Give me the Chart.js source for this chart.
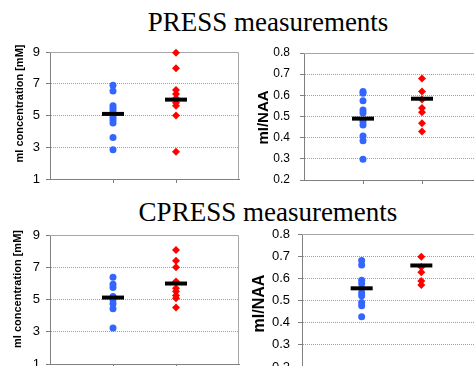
<!DOCTYPE html>
<html>
<head>
<meta charset="utf-8">
<script src="https://cdn.jsdelivr.net/npm/chart.js@4.4.0/dist/chart.umd.min.js"></script>
<style>
  html, body { margin: 0; overflow: hidden; }
  body { width: 474px; height: 366px; position: relative; background: #fff; }
  .titulo { position: absolute; left: 68px; width: 400px; text-align: center; font-family: "Liberation Serif", "Times New Roman", serif; font-size: 27px; line-height: 27px; color: #000; white-space: nowrap; }
  canvas { position: absolute; }
</style>
</head>
<body>
<div class="titulo" style="top:9px">PRESS measurements</div>
<div class="titulo" style="top:199px">CPRESS measurements</div>
<canvas id="c1" width="240" height="150" style="left:0;top:40px"></canvas>
<canvas id="c2" width="241" height="150" style="left:240px;top:40px"></canvas>
<canvas id="c3" width="240" height="150" style="left:0;top:225px"></canvas>
<canvas id="c4" width="241" height="150" style="left:240px;top:225px"></canvas>
<script>
// grupos no eixo x (posicoes 1 e 2)
var grupos = ['azul', 'vermelho'];

// PRESS - concentracao mI [mM]
var pressConcAzul = [6.9, 6.55, 5.62, 5.45, 5.28, 5.1, 4.89, 4.72, 4.53, 3.61, 2.84];
var pressConcVermelho = [8.96, 7.98, 6.6, 6.35, 6.08, 5.8, 5.62, 5.0, 2.72];
var pressConcMedia = [5.1, 6.0];

// PRESS - mI/NAA
var pressRazaoAzul = [0.618, 0.61, 0.574, 0.531, 0.516, 0.476, 0.46, 0.408, 0.385, 0.298];
var pressRazaoVermelho = [0.68, 0.618, 0.58, 0.54, 0.52, 0.468, 0.429];
var pressRazaoMedia = [0.49, 0.584];

// CPRESS - concentracao mI [mM]
var cpressConcAzul = [6.38, 5.95, 5.74, 5.19, 4.98, 4.73, 4.42, 3.23];
var cpressConcVermelho = [8.07, 7.41, 7.0, 6.11, 5.7, 5.49, 5.25, 5.08, 4.5];
var cpressConcMedia = [5.12, 5.99];

// CPRESS - mI/NAA
var cpressRazaoAzul = [0.681, 0.66, 0.591, 0.576, 0.536, 0.521, 0.491, 0.476, 0.427];
var cpressRazaoVermelho = [0.697, 0.651, 0.628, 0.588, 0.57];
var cpressRazaoMedia = [0.555, 0.658];

// rotulos dos eixos y
var ticksConc = [1, 3, 5, 7, 9];
var ticksRazao = [0.2, 0.3, 0.4, 0.5, 0.6, 0.7, 0.8];

// borda cinza em cima e a direita da area do grafico
var moldura = {
  id: 'moldura',
  beforeDatasetsDraw: function(chart) {
    var a = chart.chartArea, c = chart.ctx;
    c.save();
    c.strokeStyle = '#a6a6a6';
    c.lineWidth = 1;
    c.beginPath();
    c.moveTo(a.left, Math.floor(a.top) + 0.5);
    c.lineTo(Math.floor(a.right) - 0.5, Math.floor(a.top) + 0.5);
    c.lineTo(Math.floor(a.right) - 0.5, a.bottom);
    c.stroke();
    c.restore();
  }
};

// titulo do eixo y (rotacionado)
var tituloY = {
  id: 'tituloY',
  afterDraw: function(chart, args, o) {
    var c = chart.ctx;
    c.save();
    c.translate(o.x, o.y);
    c.rotate(-Math.PI / 2);
    c.font = o.font;
    c.fillStyle = '#000';
    c.textAlign = 'center';
    c.textBaseline = 'middle';
    c.fillText(o.text, 0, 0);
    c.restore();
  }
};

function desenha(id, cfg) {
  var ctx = document.getElementById(id).getContext('2d');
  return new Chart(ctx, {
    type: 'scatter',
    data: {
      datasets: [{
        data: cfg.media.map(function(v, i) { return { x: i + 1, y: v }; }),
        pointStyle: 'line',
        radius: 11,
        borderColor: '#000',
        backgroundColor: '#000',
        borderWidth: 4,
        clip: false,
        order: 0
      }, {
        data: cfg.azul.map(function(v) { return { x: grupos.indexOf('azul') + 1, y: v }; }),
        pointStyle: 'circle',
        radius: 3.5,
        backgroundColor: '#3366ff',
        borderWidth: 0,
        clip: false,
        order: 1
      }, {
        data: cfg.vermelho.map(function(v) { return { x: grupos.indexOf('vermelho') + 1, y: v }; }),
        pointStyle: 'rectRot',
        radius: 4,
        backgroundColor: '#ff0000',
        borderWidth: 0,
        clip: false,
        order: 1
      }]
    },
    options: {
      responsive: false,
      animation: false,
      events: [],
      layout: { autoPadding: false, padding: { top: cfg.top, right: cfg.right, left: 0, bottom: 0 } },
      plugins: {
        legend: { display: false },
        tooltip: { enabled: false },
        tituloY: cfg.titulo
      },
      scales: {
        x: {
          type: 'linear',
          min: 0,
          max: grupos.length + 1,
          afterBuildTicks: function(s) {
            s.ticks = grupos.map(function(g, i) { return { value: i + 1 }; });
          },
          afterFit: function(s) { s.height = cfg.xh; s.paddingLeft = 0; s.paddingRight = 0; },
          ticks: { callback: function() { return ''; } },
          grid: { drawOnChartArea: false, tickLength: 4, tickColor: '#808080' },
          border: { color: '#808080' }
        },
        y: {
          min: cfg.ticks[0],
          max: cfg.ticks[cfg.ticks.length - 1],
          afterBuildTicks: function(s) {
            s.ticks = cfg.ticks.map(function(v) { return { value: v }; });
          },
          // largura fixa e sem folga extra em cima/embaixo
          afterFit: function(s) { s.width = cfg.yw; s.paddingTop = 0; s.paddingBottom = 0; },
          ticks: {
            color: '#000',
            padding: cfg.pad,
            font: { family: 'Liberation Sans', size: cfg.fs },
            callback: function(v) { return cfg.dec ? v.toFixed(cfg.dec) : String(v); }
          },
          grid: { color: '#a0a0a0', tickColor: '#808080', tickLength: 4 },
          border: { color: '#808080', dash: [1, 1] }
        }
      }
    },
    plugins: [moldura, tituloY]
  });
}

desenha('c1', {
  azul: pressConcAzul, vermelho: pressConcVermelho, media: pressConcMedia,
  ticks: ticksConc, dec: 0, fs: 13, pad: 6, yw: 50, xh: 11, top: 12, right: 1,
  titulo: { text: 'mI concentration [mM]', font: 'bold 11px "Liberation Sans"', x: 20, y: 63.5 }
});
desenha('c2', {
  azul: pressRazaoAzul, vermelho: pressRazaoVermelho, media: pressRazaoMedia,
  ticks: ticksRazao, dec: 1, fs: 12, pad: 10, yw: 64, xh: 10, top: 13, right: 0,
  titulo: { text: 'mI/NAA', font: 'bold 15px "Liberation Sans"', x: 24, y: 77.5 }
});
desenha('c3', {
  azul: cpressConcAzul, vermelho: cpressConcVermelho, media: cpressConcMedia,
  ticks: ticksConc, dec: 0, fs: 13, pad: 6, yw: 50, xh: 11, top: 10, right: 1,
  titulo: { text: 'mI concentration [mM]', font: 'bold 11px "Liberation Sans"', x: 18, y: 64 }
});
desenha('c4', {
  azul: cpressRazaoAzul, vermelho: cpressRazaoVermelho, media: cpressRazaoMedia,
  ticks: ticksRazao, dec: 1, fs: 13, pad: 8, yw: 62, xh: 8, top: 9, right: 0,
  titulo: { text: 'mI/NAA', font: 'bold 16px "Liberation Sans"', x: 20, y: 78.5 }
});
</script>
</body>
</html>
